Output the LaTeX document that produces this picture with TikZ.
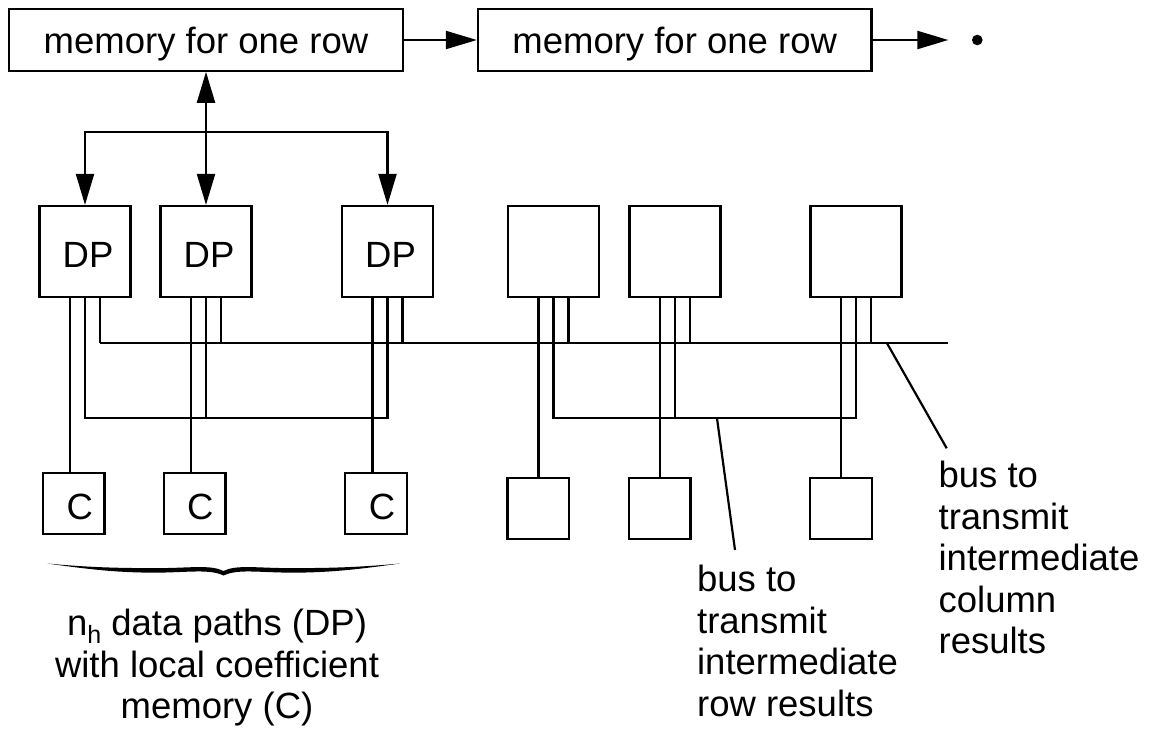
\documentclass[tikz,border=0pt]{standalone}
\usepackage{fontspec}
\setmainfont{Liberation Sans}
\usetikzlibrary{arrows.meta,calc}
\begin{document}
\begin{tikzpicture}[x=1pt,y=-1pt, line width=2.2pt,
  every node/.style={font=\fontsize{36.5pt}{41.5pt}\selectfont},
  box/.style={draw, rectangle, inner sep=0pt, text depth=0pt},
  memory/.style={box, minimum width=393.5pt, minimum height=61.4pt, text height=26.6pt},
  dpbox/.style={box, minimum width=91pt, minimum height=91pt, text height=31pt},
  cbox/.style={box, minimum width=61.5pt, minimum height=61pt, text height=32pt},
  tri/.tip={Triangle[length=31pt,width=18pt]},
  arr/.style={-tri},
  lbl/.style={inner sep=0pt, align=left, anchor=north west}
]
\fill[white] (0,0) rectangle (1150,728);
\useasboundingbox (0,0) rectangle (1150,728);

% memories
\node[memory] (mem1) at (206,40) {memory for one row};
\node[memory] (mem2) at (674.7,40) {memory for one row};
\node[circle, fill, inner sep=0pt, minimum size=10.6pt] (dot) at (977.3,40) {};
\coordinate (tipend) at (948.3,40);
\draw[arr] (mem1) -- (mem2);
\draw[arr] (mem2) -- (tipend);

% data paths
\node[dpbox] (dp1) at (85,251.5) {\hspace*{6pt}DP};
\node[dpbox] (dp2) at (206,251.5) {\hspace*{6pt}DP};
\node[dpbox] (dp3) at (387.5,251.5) {\hspace*{6pt}DP};
\node[dpbox] (dp4) at (553.5,251.5) {};
\node[dpbox] (dp5) at (675,251.5) {};
\node[dpbox] (dp6) at (856,251.5) {};

% coefficient memories
\node[cbox] (c1) at (73.7,503.5) {\hspace*{12pt}C};
\node[cbox] (c2) at (194.7,503.5) {\hspace*{11pt}C};
\node[cbox] (c3) at (376,503.5) {\hspace*{12pt}C};
\node[cbox] (c4) at (538.2,508.5) {};
\node[cbox] (c5) at (659.7,508.5) {};
\node[cbox] (c6) at (841,508.5) {};

% memory to data paths
\draw[tri-tri] (mem1.south) -- (dp2.north);
\coordinate (split) at (206,132);
\draw[arr] (split) -| (dp1.north);
\draw[arr] (split) -| (dp3.north);

% buses
\coordinate (colY) at (0,342.7);
\coordinate (rowY) at (0,418.3);
\coordinate (colEnd) at (947.5,342.7);
\foreach \i in {1,...,6} {
  \coordinate (a\i) at ($(dp\i.south)+(-15,0)$);
  \coordinate (b\i) at (dp\i.south);
  \coordinate (k\i) at ($(dp\i.south)+(15,0)$);
  \draw (a\i) -- (a\i |- c\i.north);
  \draw (k\i) -- (k\i |- colY);
}
\draw (k1 |- colY) -- (colEnd);
\draw[line join=miter] (b1) -- (b1 |- rowY) -- (b3 |- rowY) -- (b3);
\draw (b2) -- (b2 |- rowY);
\draw[line join=miter] (b4) -- (b4 |- rowY) -- (b6 |- rowY) -- (b6);
\draw (b5) -- (b5 |- rowY);

% annotations
\coordinate (rowtap) at (717,418.3);
\coordinate (rowend) at (735,550);
\draw (rowtap) -- (rowend);
\coordinate (coltap) at (886.7,342.7);
\coordinate (colendl) at (946.7,448.3);
\draw (coltap) -- (colendl);
\node[lbl] (rowtxt) at (696,564) {bus to\\transmit\\intermediate\\row results};
\node[lbl] (coltxt) at (937.5,460) {bus to\\transmit\\intermediate\\column\\results};

% brace
\fill (47.3,563.5) .. controls (90,569.5) and (120,573) .. (160,572.6)
  .. controls (190,572.2) and (210,569) .. (223.5,575.5)
  .. controls (237,569) and (257,572.2) .. (287,572.6)
  .. controls (327,573) and (357,569.5) .. (400,563.5)
  .. controls (357,567.5) and (327,568.2) .. (287,568.1)
  .. controls (257,568) and (236,564.5) .. (223.5,571)
  .. controls (211,564.5) and (190,568) .. (160,568.1)
  .. controls (120,568.2) and (90,567.5) .. cycle;
\node[inner sep=0pt, align=center, anchor=north] (bracetxt) at (217,608)
  {n\raisebox{-8.3pt}{\fontsize{25pt}{25pt}\selectfont h} data paths (DP)\\with local coefficient\\memory (C)};
\end{tikzpicture}
\end{document}
